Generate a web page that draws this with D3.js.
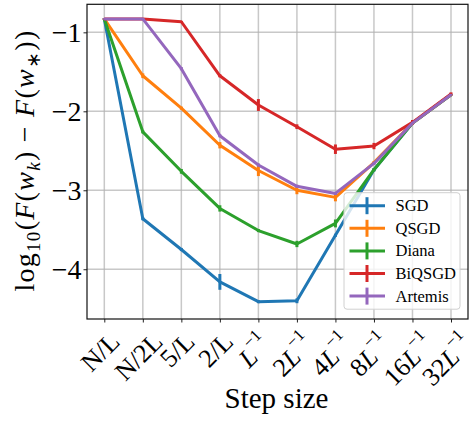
<!DOCTYPE html>
<html><head><meta charset="utf-8">
<script src="https://cdn.jsdelivr.net/npm/d3@7"></script>
<style>body{margin:0;background:#fff}svg{display:block}</style>
</head><body>
<svg id="c" width="475" height="423" font-family="Liberation Serif"></svg>
<script>
const categories = ["N/L","N/2L","5/L","2/L","L^-1","2L^-1","4L^-1","8L^-1","16L^-1","32L^-1"];
const seriesNames = ["SGD","QSGD","Diana","BiQSGD","Artemis"];
const colors = ["#1f77b4","#ff7f0e","#2ca02c","#d62728","#9467bd"];
const sgd     = [-0.83,-3.36,-3.75,-4.16,-4.41,-4.40,-3.57,-2.74,-2.15,-1.79];
const qsgd    = [-0.83,-1.55,-1.96,-2.43,-2.75,-3.00,-3.09,-2.65,-2.15,-1.79];
const diana   = [-0.83,-2.26,-2.76,-3.23,-3.51,-3.68,-3.42,-2.74,-2.15,-1.79];
const biqsgd  = [-0.83,-0.83,-0.866,-1.55,-1.92,-2.195,-2.48,-2.44,-2.14,-1.78];
const artemis = [-0.83,-0.83,-1.46,-2.31,-2.68,-2.95,-3.04,-2.66,-2.15,-1.79];
const sgdErr     = [0.01,0.02,0.02,0.10,0.02,0.03,0.02,0.02,0.01,0.01];
const qsgdErr    = [0.01,0.03,0.02,0.04,0.07,0.05,0.05,0.02,0.01,0.01];
const dianaErr   = [0.01,0.02,0.03,0.04,0.02,0.04,0.05,0.02,0.01,0.01];
const biqsgdErr  = [0.01,0.01,0.01,0.02,0.075,0.03,0.06,0.04,0.03,0.02];
const artemisErr = [0.01,0.01,0.02,0.02,0.02,0.02,0.02,0.02,0.01,0.01];
const yTicks = [-1,-2,-3,-4];

const values = [sgd,qsgd,diana,biqsgd,artemis];
const errs = [sgdErr,qsgdErr,dianaErr,biqsgdErr,artemisErr];
const FF = "Liberation Serif";

const L = 87, R = 468, T = 4.3, B = 319;
const svg = d3.select("#c");
const x = d3.scalePoint().domain(categories).range([104.3, 451]);
const y = d3.scaleLinear().domain([-4.63, -0.645]).range([B, T]);

// grid
const g = svg.append("g");
g.selectAll(".vg").data(categories).join("line")
  .attr("x1", d=>x(d)).attr("x2", d=>x(d)).attr("y1", T).attr("y2", B)
  .attr("stroke", "#b0b0b0").attr("stroke-opacity", 0.7).attr("stroke-width", 1.5);
g.selectAll(".hg").data(yTicks).join("line")
  .attr("x1", L).attr("x2", R).attr("y1", d=>y(d)).attr("y2", d=>y(d))
  .attr("stroke", "#b0b0b0").attr("stroke-opacity", 0.7).attr("stroke-width", 1.5);

// axes
const xa = svg.append("g").attr("transform", `translate(0,${B})`)
  .call(d3.axisBottom(x).tickSize(3.5).tickFormat(""));
const ya = svg.append("g").attr("transform", `translate(${L},0)`)
  .call(d3.axisLeft(y).tickValues(yTicks).tickSize(3.5).tickFormat(""));
[xa, ya].forEach(a => { a.select(".domain").remove(); a.selectAll("line").attr("stroke", "#222").attr("stroke-width", 1); });

// y tick labels
svg.selectAll(".yl").data(yTicks).join("text")
  .attr("font-family", FF)
  .attr("x", 81.5).attr("y", d=>y(d)).attr("text-anchor", "end")
  .attr("dominant-baseline", "central").attr("font-size", 28)
  .text(d => "\u2212" + Math.abs(d));

// x tick labels (rotated 45°)
function fillLabel(t, c) {
  const m = c.match(/^(\d*)L\^-1$/);
  if (m) {
    if (m[1]) t.append("tspan").text(m[1]);
    t.append("tspan").attr("font-style", "italic").text("L");
    t.append("tspan").attr("font-size", 17).attr("dy", -11).text("\u22121");
  } else {
    t.text(c);
  }
}
categories.forEach(c => {
  const t = svg.append("text").attr("font-family", FF).attr("font-size", 26).attr("text-anchor", "middle")
    .attr("dominant-baseline", "central");
  fillLabel(t, c);
  const bb = t.node().getBBox();
  const ext = (bb.width + bb.height) / Math.SQRT2;
  const top = 327;
  t.attr("transform", `translate(${x(c) - 4},${top + ext/2}) rotate(-45)`);
});

// x label
svg.append("text").attr("font-family", FF).attr("x", 276.5).attr("y", 408).attr("text-anchor", "middle")
  .attr("font-size", 29).text("Step size");

// y label
const yl = svg.append("text").attr("font-family", FF).attr("transform", "translate(34,160.5) rotate(-90)")
  .attr("text-anchor", "middle").attr("font-size", 28);
yl.append("tspan").text("log");
yl.append("tspan").attr("font-size", 19).attr("dy", 6).text("10");
yl.append("tspan").attr("dy", -6).text("(");
yl.append("tspan").attr("font-style", "italic").text("F");
yl.append("tspan").text("(");
yl.append("tspan").attr("font-style", "italic").text("w");
yl.append("tspan").attr("font-style", "italic").attr("font-size", 19).attr("dy", 6).text("k");
yl.append("tspan").attr("dy", -6).text(") \u2212 ");
yl.append("tspan").attr("font-style", "italic").text("F");
yl.append("tspan").text("(");
yl.append("tspan").attr("font-style", "italic").text("w");
yl.append("tspan").attr("font-size", 19).attr("dy", 6).text("\u2217");
yl.append("tspan").attr("dy", -6).text("))");
{
  const len = yl.node().getComputedTextLength();
  const target = 262;
  const nChars = yl.text().length;
  if (len > 0 && len < target) yl.attr("letter-spacing", ((target - len) / nChars).toFixed(2));
}

// series
const line = d3.line().x((d,i)=>x(categories[i])).y(d=>y(d));
values.forEach((vals, s) => {
  const gs = svg.append("g");
  gs.append("path").datum(vals).attr("d", line).attr("fill", "none")
    .attr("stroke", colors[s]).attr("stroke-width", 3).attr("stroke-linejoin", "round");
  gs.selectAll("line").data(vals).join("line")
    .attr("x1", (d,i)=>x(categories[i])).attr("x2", (d,i)=>x(categories[i]))
    .attr("y1", (d,i)=>y(d - errs[s][i])).attr("y2", (d,i)=>y(d + errs[s][i]))
    .attr("stroke", colors[s]).attr("stroke-width", 3);
});

// frame
svg.append("rect").attr("x", L).attr("y", T).attr("width", R-L).attr("height", B-T)
  .attr("fill", "none").attr("stroke", "#111").attr("stroke-width", 1.2);

// legend
const lg = svg.append("g");
lg.append("rect").attr("x", 344).attr("y", 192.7).attr("width", 116).attr("height", 116.5)
  .attr("rx", 3).attr("fill", "#fff").attr("fill-opacity", 0.8).attr("stroke", "#d0d0d0").attr("stroke-width", 1);
seriesNames.forEach((n, i) => {
  const cy = 205.7 + i * 22.6;
  lg.append("line").attr("x1", 349.5).attr("x2", 385).attr("y1", cy).attr("y2", cy)
    .attr("stroke", colors[i]).attr("stroke-width", 3);
  lg.append("line").attr("x1", 367).attr("x2", 367).attr("y1", cy - 8.5).attr("y2", cy + 8.5)
    .attr("stroke", colors[i]).attr("stroke-width", 3);
  lg.append("text").attr("font-family", FF).attr("x", 395.5).attr("y", cy).attr("dominant-baseline", "central")
    .attr("font-size", 16.5).text(n);
});
</script>
</body></html>
